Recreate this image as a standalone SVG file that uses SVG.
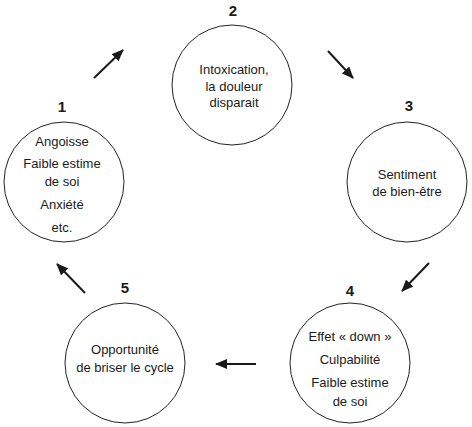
<svg xmlns="http://www.w3.org/2000/svg" width="472" height="427" viewBox="0 0 472 427">
<defs>
<marker id="ah" viewBox="0 0 12 10" refX="11" refY="5" markerWidth="12" markerHeight="10" markerUnits="userSpaceOnUse" orient="auto">
<path d="M0,0 L12,5 L0,10 Z" fill="#1a1a1a"/>
</marker>
<style>
.c{fill:#fff;stroke:#222;stroke-width:1}
.t{font-family:"Liberation Sans",Arial,sans-serif;font-size:13px;fill:#1a1a1a;text-anchor:middle}
.n{font-family:"Liberation Sans",Arial,sans-serif;font-size:15px;font-weight:bold;fill:#1a1a1a;text-anchor:middle}
.a{stroke:#1a1a1a;stroke-width:2;fill:none;marker-end:url(#ah)}
</style>
</defs>
<rect width="472" height="427" fill="#fff"/>
<g id="connectors">
<line class="a" x1="94" y1="78" x2="123" y2="50"/>
<line class="a" x1="328" y1="51" x2="353" y2="78"/>
<line class="a" x1="429" y1="263" x2="402" y2="291"/>
<line class="a" x1="256" y1="364" x2="216" y2="364"/>
<line class="a" x1="85" y1="293" x2="57" y2="264"/>
</g>
<g id="node1">
<text class="n" x="62" y="112">1</text>
<circle class="c" cx="64" cy="182" r="60"/>
<text class="t" x="62" y="146">Angoisse</text>
<text class="t" x="62" y="168">Faible estime</text>
<text class="t" x="62" y="186">de soi</text>
<text class="t" x="62" y="209">Anxiété</text>
<text class="t" x="62" y="232">etc.</text>
</g>
<g id="node2">
<text class="n" x="233" y="16">2</text>
<circle class="c" cx="232" cy="85" r="60"/>
<text class="t" x="234" y="74">Intoxication,</text>
<text class="t" x="234" y="91">la douleur</text>
<text class="t" x="234" y="107">disparait</text>
</g>
<g id="node3">
<text class="n" x="409" y="111">3</text>
<circle class="c" cx="407" cy="182" r="60"/>
<text class="t" x="407" y="179">Sentiment</text>
<text class="t" x="407" y="196">de bien-être</text>
</g>
<g id="node4">
<text class="n" x="350" y="296">4</text>
<circle class="c" cx="350" cy="363" r="60"/>
<text class="t" x="350" y="341">Effet « down »</text>
<text class="t" x="350" y="364">Culpabilité</text>
<text class="t" x="350" y="387">Faible estime</text>
<text class="t" x="350" y="406">de soi</text>
</g>
<g id="node5">
<text class="n" x="125" y="293">5</text>
<circle class="c" cx="125" cy="363" r="60"/>
<text class="t" x="125" y="354">Opportunité</text>
<text class="t" x="125" y="372">de briser le cycle</text>
</g>
</svg>
